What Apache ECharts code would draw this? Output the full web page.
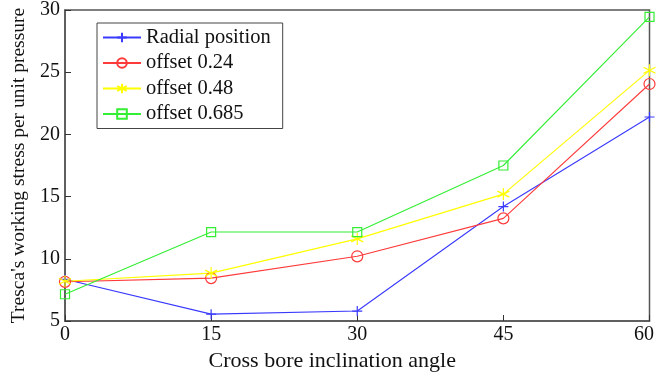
<!DOCTYPE html>
<html><head><meta charset="utf-8">
<script src="https://cdn.jsdelivr.net/npm/echarts@6/dist/echarts.min.js"></script>
<style>html,body{margin:0;padding:0;background:#fff}#c{width:657px;height:377px}</style>
</head><body><div id="c"></div>
<script>
const categories = [0, 15, 30, 45, 60];
const radial = [8.35, 5.55, 5.8, 14.2, 21.4];
const offset024 = [8.15, 8.45, 10.2, 13.25, 24.05];
const offset048 = [8.2, 8.85, 11.6, 15.2, 25.15];
const offset0685 = [7.15, 12.15, 12.15, 17.5, 29.45];
const names = ['Radial position', 'offset 0.24', 'offset 0.48', 'offset 0.685'];
const colors = ['#3a3aff', '#ff3a3a', '#ffff00', '#33ee33'];
const symbols = [
  'path://M5,0L5,10M0,5L10,5',
  'circle',
  'path://M5,0L5,10M0.7,2.5L9.3,7.5M0.7,7.5L9.3,2.5',
  'rect'
];
const sizes = [10, 11, 12, 9];
const values = [radial, offset024, offset048, offset0685];
const font = 'Liberation Serif, Times New Roman, serif';
const chart = echarts.init(document.getElementById('c'), null, {renderer: 'canvas'});
chart.setOption({
  animation: false,
  backgroundColor: '#fff',
  grid: {left: 65, right: 7, top: 7, bottom: 56, show: true, borderColor: '#555', borderWidth: 1.5, backgroundColor: 'transparent'},
  legend: {
    orient: 'vertical', left: 97, top: 23,
    borderColor: '#444', borderWidth: 1, backgroundColor: '#fff',
    padding: [4, 12, 4, 5], itemGap: 4.5, itemWidth: 38, itemHeight: 12,
    textStyle: {fontFamily: font, fontSize: 20.5, color: '#111'},
    data: names
  },
  xAxis: {
    type: 'value', min: 0, max: 60, interval: 15,
    name: 'Cross bore inclination angle', nameLocation: 'middle', nameGap: 27,
    nameTextStyle: {fontFamily: font, fontSize: 22, color: '#111', padding: [0, 50, 0, 0]},
    axisLine: {lineStyle: {color: '#555', width: 1.5}},
    axisTick: {inside: true, length: 6, lineStyle: {color: '#333'}},
    axisLabel: {
      fontFamily: font, fontSize: 20, color: '#111', margin: 4,
      formatter: v => v === 60 ? '{m|60}' : String(v),
      rich: {m: {fontFamily: font, fontSize: 20, color: '#111', padding: [0, 11, 0, 0]}}
    },
    splitLine: {show: false}
  },
  yAxis: {
    type: 'value', min: 5, max: 30, interval: 5,
    name: "Tresca's working stress per unit pressure", nameLocation: 'middle', nameGap: 33,
    nameTextStyle: {fontFamily: font, fontSize: 19.5, color: '#111'},
    axisLine: {show: true, lineStyle: {color: '#555', width: 1.5}},
    axisTick: {show: true, inside: true, length: 6, lineStyle: {color: '#333'}},
    axisLabel: {fontFamily: font, fontSize: 20, color: '#111', margin: 5},
    splitLine: {show: false}
  },
  series: names.map((n, i) => ({
    name: n, type: 'line',
    data: categories.map((c, j) => [c, values[i][j]]),
    symbol: symbols[i], symbolSize: sizes[i], showAllSymbol: true,
    lineStyle: {color: colors[i], width: 1.1},
    itemStyle: {color: 'transparent', borderColor: colors[i], borderWidth: 1.2},
    emphasis: {disabled: true}
  }))
});
</script></body></html>
